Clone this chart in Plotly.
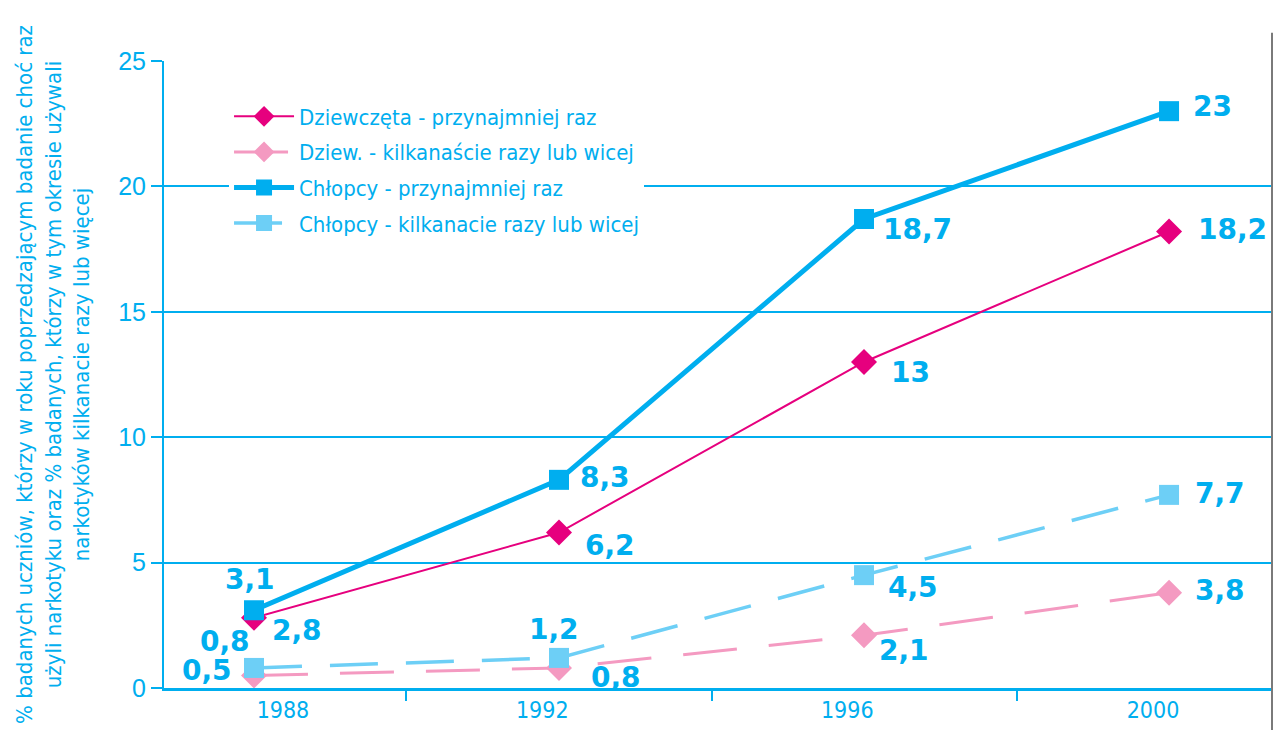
import plotly.graph_objects as go

years = [1988, 1992, 1996, 2000]

girls_once = [2.8, 6.2, 13, 18.2]
girls_many = [0.5, 0.8, 2.1, 3.8]
boys_once = [3.1, 8.3, 18.7, 23]
boys_many = [0.8, 1.2, 4.5, 7.7]

names = [
    "Dziewczęta - przynajmniej raz",
    "Dziew. - kilkanaście razy lub wicej",
    "Chłopcy - przynajmniej raz",
    "Chłopcy - kilkanacie razy lub wicej",
]

y_title = ("% badanych uczniów, którzy w roku poprzedzającym badanie choć raz<br>"
           "użyli narkotyku oraz % badanych, którzy w tym okresie używali<br>"
           "narkotyków kilkanacie razy lub więcej")

CYAN = "#00AEEF"
MAGENTA = "#E6007E"
PINK = "#F49AC1"
LIGHTBLUE = "#6DCFF6"
NARROW = "DejaVu Sans Condensed, Roboto, sans-serif"
BOLD = "DejaVu Sans"

# label offsets (pixels, relative to marker centre) for each series' value labels
girls_once_lbl = [(43, -13), (51, -13), (46, -11), (63, 2)]
girls_many_lbl = [(-47, 5), (57, -10), (40, -15), (51, 2)]
boys_once_lbl = [(-4, 31), (46, 2), (53, -10), (43, 5)]
boys_many_lbl = [(-29, 26), (-5, 28), (49, -12), (51, 1)]
# x-axis label offsets (years) relative to category positions
year_label_offsets = [0.38, -0.22, -0.22, -0.21]


def fmt(v):
    return f"{v:g}".replace(".", ",")


series = [
    dict(y=girls_once, name=names[0], color=MAGENTA, width=2, dash="solid", symbol="diamond",
         lbl=girls_once_lbl),
    dict(y=girls_many, name=names[1], color=PINK, width=3, dash="54px,32px", symbol="diamond",
         lbl=girls_many_lbl),
    dict(y=boys_once, name=names[2], color=CYAN, width=5, dash="solid", symbol="square",
         lbl=boys_once_lbl),
    dict(y=boys_many, name=names[3], color=LIGHTBLUE, width=3.5, dash="48px,28px", symbol="square",
         lbl=boys_many_lbl),
]

fig = go.Figure()
annotations = []
for i, s in enumerate(series):
    fig.add_trace(go.Scatter(
        x=years, y=s["y"], name=s["name"], mode="lines+markers",
        legendgroup=f"g{i}",
        line=dict(color=s["color"], width=s["width"], dash=s["dash"]),
        marker=dict(symbol=s["symbol"], size=20, color=s["color"], line=dict(width=0)),
        cliponaxis=False,
    ))
    for xv, yv, (dx, dy) in zip(years, s["y"], s["lbl"]):
        annotations.append(dict(
            x=xv, y=yv, xref="x", yref="y", text=fmt(yv), showarrow=False,
            xanchor="center", yanchor="middle", xshift=dx, yshift=dy,
            font=dict(family=BOLD, size=28, color=CYAN, weight="bold"),
        ))

fig.update_layout(
    width=1273, height=730,
    margin=dict(l=164, r=1, t=61, b=42),
    paper_bgcolor="white", plot_bgcolor="white",
    showlegend=True,
    annotations=annotations,
    legend=dict(x=0.0587, y=0.945, xanchor="left", yanchor="top",
                bgcolor="white", borderwidth=0, tracegroupgap=4,
                font=dict(family=NARROW, size=22, color=CYAN),
                itemwidth=60),
    xaxis=dict(range=[1986.82, 2001.35],
               tickvals=[y + o for y, o in zip(years, year_label_offsets)],
               ticktext=[str(y) for y in years],
               showgrid=False, zeroline=False, showline=True, linecolor=CYAN, linewidth=2.5,
               ticks="",
               tickfont=dict(family=NARROW, size=23, color=CYAN),
               minor=dict(tickmode="array", tickvals=[1990, 1994, 1998], ticks="outside",
                          ticklen=10, tickcolor=CYAN, tickwidth=2, showgrid=False)),
    yaxis=dict(range=[0, 25], tickvals=[0, 5, 10, 15, 20, 25], showgrid=True,
               gridcolor=CYAN, gridwidth=1.5, zeroline=False, showline=True,
               linecolor=CYAN, linewidth=2, ticks="outside", ticklen=11,
               tickcolor=CYAN, tickwidth=1.5,
               tickfont=dict(family="Liberation Sans, Arial, sans-serif", size=25, color=CYAN),
               title=dict(text=y_title, standoff=22,
                          font=dict(family=NARROW, size=22, color=CYAN))),
    shapes=[dict(type="line", xref="paper", yref="paper", x0=1, x1=1, y0=-0.067, y1=1.045,
                 line=dict(color="#7a7a7a", width=2))],
)

fig.write_html("out.html", post_script="document.body.style.margin='0';",
               config={"displayModeBar": False})
